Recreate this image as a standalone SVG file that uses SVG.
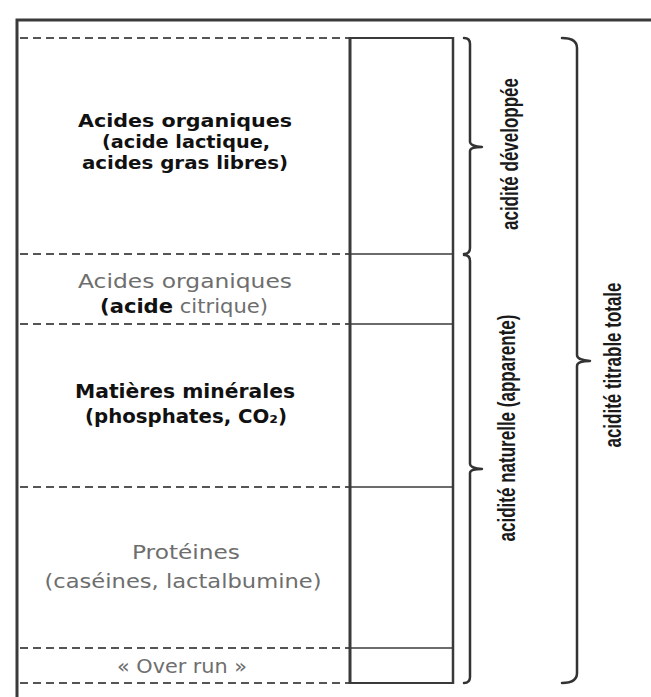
<svg xmlns="http://www.w3.org/2000/svg" width="651" height="697" viewBox="0 0 651 697">
  <style>
    .frame { stroke: #3a3a3a; stroke-width: 3; fill: none; }
    .dash { stroke: #555; stroke-width: 2; stroke-dasharray: 8 5; fill: none; }
    .col { stroke: #3a3a3a; fill: none; }
    .brace { stroke: #333; stroke-width: 2.5; fill: none; stroke-linecap: round; stroke-linejoin: round; }
    .lbl { font-family: "DejaVu Sans", "Liberation Sans", sans-serif; font-size: 20px; text-anchor: middle; }
    .tight { font-size: 18px; }
    .dark { fill: #111; font-weight: bold; }
    .grey { fill: #6e6e6e; font-weight: normal; }
    .vert { font-family: "Liberation Sans", "DejaVu Sans", sans-serif; font-size: 24px; font-weight: bold; fill: #1a1a1a; text-anchor: middle; }
  </style>
  <rect x="0" y="0" width="651" height="697" fill="#ffffff"/>

  <!-- outer frame: top rule and left rule -->
  <path class="frame" d="M17,697 V20 H651"/>

  <!-- layer separators -->
  <g id="separators">
    <line class="dash" x1="20" y1="38" x2="350" y2="38"/>
    <line class="dash" x1="20" y1="254" x2="350" y2="254"/>
    <line class="dash" x1="20" y1="324" x2="350" y2="324"/>
    <line class="dash" x1="20" y1="487" x2="350" y2="487"/>
    <line class="dash" x1="20" y1="648" x2="350" y2="648"/>
    <line class="dash" x1="20" y1="683" x2="350" y2="683"/>
  </g>

  <!-- stacked column -->
  <g id="column">
    <line class="col" stroke-width="3" x1="350" y1="37" x2="350" y2="684"/>
    <line class="col" stroke-width="2.5" x1="453" y1="37" x2="453" y2="684"/>
    <line class="col" stroke-width="2" x1="350" y1="38" x2="453" y2="38"/>
    <line class="col" stroke-width="1.6" x1="350" y1="254" x2="453" y2="254"/>
    <line class="col" stroke-width="1.6" x1="350" y1="324" x2="453" y2="324"/>
    <line class="col" stroke-width="1.6" x1="350" y1="487" x2="453" y2="487"/>
    <line class="col" stroke-width="1.6" x1="350" y1="648" x2="453" y2="648"/>
    <line class="col" stroke-width="2" x1="350" y1="683" x2="453" y2="683"/>
  </g>

  <!-- layers -->
  <g id="layer-acides-developpes">
    <text class="lbl tight dark" x="185" y="127" textLength="214" lengthAdjust="spacingAndGlyphs">Acides organiques</text>
    <text class="lbl tight dark" x="186" y="148" textLength="168" lengthAdjust="spacingAndGlyphs">(acide lactique,</text>
    <text class="lbl tight dark" x="185" y="169" textLength="206" lengthAdjust="spacingAndGlyphs">acides gras libres)</text>
  </g>

  <g id="layer-acide-citrique">
    <text class="lbl grey" x="185" y="288" textLength="214" lengthAdjust="spacingAndGlyphs">Acides organiques</text>
    <text class="lbl" x="184" y="313" textLength="168" lengthAdjust="spacingAndGlyphs"><tspan class="dark">(acide</tspan><tspan class="grey"> citrique)</tspan></text>
  </g>

  <g id="layer-mineraux">
    <text class="lbl dark" x="185" y="398" textLength="220" lengthAdjust="spacingAndGlyphs">Matières minérales</text>
    <text class="lbl dark" x="186" y="423" textLength="202" lengthAdjust="spacingAndGlyphs">(phosphates, CO₂)</text>
  </g>

  <g id="layer-proteines">
    <text class="lbl grey" x="186" y="559" textLength="108" lengthAdjust="spacingAndGlyphs">Protéines</text>
    <text class="lbl grey" x="183" y="588" textLength="277" lengthAdjust="spacingAndGlyphs">(caséines, lactalbumine)</text>
  </g>

  <g id="layer-over-run">
    <text class="lbl grey" x="182" y="673" textLength="130" lengthAdjust="spacingAndGlyphs">« Over run »</text>
  </g>

  <!-- braces grouping the layers -->
  <g id="connectors">
    <path class="brace" d="M464,38 Q470,38 470,44 V142 Q470,146 482,147 Q470,147 470,151 V248 Q470,254 464,254"/>
    <path class="brace" d="M464,255 Q470,255 470,261 V464 Q470,468 482,469 Q470,469 470,473 V677 Q470,683 464,683"/>
    <path class="brace" d="M562,38 Q577,38 577,48 V355 Q577,360 590,361 Q577,361 577,366 V673 Q577,683 562,683"/>
  </g>

  <g id="label-acidite-developpee">
    <text class="vert" transform="translate(518,154) rotate(-90)" textLength="152" lengthAdjust="spacingAndGlyphs">acidité développée</text>
  </g>
  <g id="label-acidite-naturelle">
    <text class="vert" transform="translate(515,428) rotate(-90)" textLength="227" lengthAdjust="spacingAndGlyphs">acidité naturelle (apparente)</text>
  </g>
  <g id="label-acidite-totale">
    <text class="vert" transform="translate(621,365) rotate(-90)" textLength="165" lengthAdjust="spacingAndGlyphs">acidité titrable totale</text>
  </g>
</svg>
